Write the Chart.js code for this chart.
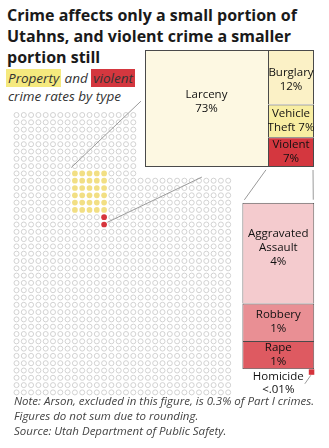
<!DOCTYPE html>
<html>
<head>
<meta charset="utf-8">
<script src="https://cdn.jsdelivr.net/npm/chart.js@4.4.1/dist/chart.umd.min.js"></script>
<style>
  body { margin: 0; background: #fff; }
  #page { position: relative; width: 329px; height: 448px; overflow: hidden; font-family: "Open Sans", sans-serif; color: #222; }
  #page canvas, #page svg { position: absolute; }
  h1 { position: absolute; left: 7px; top: 5px; margin: 0; font-size: 16px; line-height: 20.8px; font-weight: 700; color: #1a1a1a; white-space: nowrap; }
  .sub { position: absolute; left: 6px; top: 69px; font-size: 13.5px; line-height: 18.3px; font-style: italic; color: #333; white-space: nowrap; }
  .sub .l2 { margin-left: 2px; }
  .hl-p { background: #f5e97e; padding: 0 2px; }
  .hl-v { background: #d4373f; padding: 0 2px; }
  .note { position: absolute; left: 14px; top: 393px; font-size: 11.5px; line-height: 15px; font-style: italic; color: #444; white-space: nowrap; }
</style>
</head>
<body>
<div id="page">
  <h1>Crime affects only a small portion of<br>Utahns, and violent crime a smaller<br>portion still</h1>
  <div class="sub"><span class="hl-p">Property</span> and <span class="hl-v">violent</span><br><span class="l2">crime rates by type</span></div>
  <canvas id="dots" width="240" height="310"></canvas>
  <canvas id="treeLeft"></canvas>
  <canvas id="treeRight"></canvas>
  <canvas id="violent" width="73" height="200"></canvas>
  <div class="note">Note: Arson, excluded in this figure, is 0.3% of Part I crimes.<br>Figures do not sum due to rounding.<br>Source: Utah Department of Public Safety.</div>
</div>
<script>
// one dot = 0.1% of Utahns
const dotGroups = ["Property", "Violent"];
const dotCounts = [30, 2];
const dotColors = ["#f2df84", "#d6353d"];

// share of Part I crimes, %
const crimeTypes = ["Larceny", "Burglary", "Vehicle Theft", "Violent"];
const crimeShares = [72.6, 12.6, 7.6, 6.9];
const crimeText = [["Larceny", "73%"], ["Burglary", "12%"], ["Vehicle", "Theft 7%"], ["Violent", "7%"]];
const crimeColors = ["#fdf8e2", "#fbf1c6", "#f8eea2", "#d4373f"];

// violent crime split, %
const violentTypes = ["Aggravated Assault", "Robbery", "Rape", "Homicide"];
const violentShares = [3.9, 1.45, 1.1, 0.005];
const violentText = [["Aggravated", "Assault", "4%"], ["Robbery", "1%"], ["Rape", "1%"], ["Homicide", "<.01%"]];
const violentColors = ["#f4cbce", "#e98f94", "#de5a61", "#d4343c"];

// grid shape
const gridCols = 30, gridRows = 39;
const notchCols = 17, notchRows = 9;   // top rows stop short of the treemap
const blockCol = 8, blockRow = 8, blockWidth = 5;

const lineGray = "#9a9a9a";
const edge = "#4a4a4a";
const labelFont = "500 11.5px 'Open Sans'";
const labelColor = "#111";

// ---------- dot grid ----------
const filled = [[], []];
for (let i = 0; i < dotCounts[0]; i++) {
    filled[0].push({ x: blockCol + i % blockWidth, y: blockRow + Math.floor(i / blockWidth) });
}
const blockRows = Math.ceil(dotCounts[0] / blockWidth);
for (let i = 0; i < dotCounts[1]; i++) {
    filled[1].push({ x: blockCol + blockWidth - 1, y: blockRow + blockRows + i });
}
const taken = new Set(filled.flat().map(p => p.x + "," + p.y));
const emptyDots = [];
for (let r = 0; r < gridRows; r++) {
    const cols = r < notchRows ? notchCols : gridCols;
    for (let c = 0; c < cols; c++) {
        if (!taken.has(c + "," + r)) emptyDots.push({ x: c, y: r });
    }
}

// pointer lines, in grid units
const leaders = [
    [{ x: 7.5, y: 7.2 }, { x: 17.05, y: -1.9 }],
    [{ x: 12.45, y: 14.7 }, { x: 25.4, y: 8.5 }]
];

const quiet = {
    responsive: false,
    animation: false,
    events: [],
    plugins: { legend: { display: false }, tooltip: { enabled: false } }
};

function place(id, left, top, width, height) {
    const c = document.getElementById(id);
    if (width) { c.width = width; c.height = height; }
    c.style.left = left + "px";
    c.style.top = top + "px";
    return c;
}

const dotsCanvas = place("dots", 0, 95);
new Chart(dotsCanvas, {
    type: "scatter",
    data: {
        datasets: [
            ...leaders.map(l => ({
                data: l, showLine: true, borderColor: lineGray, borderWidth: 1,
                pointRadius: 0, clip: false
            })),
            ...filled.map((d, i) => ({
                label: dotGroups[i], data: d, pointRadius: 2.85,
                backgroundColor: dotColors[i], borderWidth: 0
            })),
            {
                data: emptyDots, pointRadius: 2.5,
                backgroundColor: "rgba(0,0,0,0)", borderColor: "#cdcdcd", borderWidth: 0.9
            }
        ]
    },
    options: {
        ...quiet,
        layout: { padding: { left: 12.85, top: 16.35, right: 8.15, bottom: 8.95 } },
        scales: {
            x: { type: "linear", min: -0.5, max: gridCols - 0.5, display: false },
            y: { type: "linear", min: -0.5, max: gridRows - 0.5, reverse: true, display: false }
        }
    }
});

// ---------- labels inside boxes ----------
const boxLabels = {
    id: "boxLabels",
    afterDatasetsDraw(chart) {
        const ctx = chart.ctx;
        ctx.save();
        ctx.font = labelFont;
        ctx.fillStyle = labelColor;
        ctx.textAlign = "center";
        ctx.textBaseline = "middle";
        chart.data.datasets.forEach((ds, i) => {
            if (!ds.lines) return;
            const bar = chart.getDatasetMeta(i).data[0];
            const cy = (bar.y + bar.base) / 2 + (ds.shift || 0);
            ds.lines.forEach((t, k) => {
                ctx.fillText(t, bar.x, cy + (k - (ds.lines.length - 1) / 2) * 14);
            });
        });
        ctx.restore();
    }
};

function boxChart(canvas, datasets, total) {
    return new Chart(canvas, {
        type: "bar",
        data: { labels: [""], datasets },
        options: {
            ...quiet,
            layout: { padding: 0 },
            datasets: { bar: { barPercentage: 1, categoryPercentage: 1, borderSkipped: false, inflateAmount: 0 } },
            scales: {
                x: { stacked: true, display: false },
                y: { stacked: true, min: 0, max: total, display: false }
            }
        },
        plugins: [boxLabels]
    });
}

function seg(label, value, color, lines, sides, shift) {
    return { label, data: [value], backgroundColor: color, borderColor: edge, borderWidth: sides, lines, shift };
}

const openTop = { top: 1, left: 1, right: 1, bottom: 0 };

// ---------- treemap ----------
const treeX = 145, treeY = 50, treeW = 169, treeH = 117;
const crimeSum = crimeShares.reduce((a, b) => a + b, 0);
const leftW = Math.round(treeW * crimeShares[0] / crimeSum);
const rightSum = crimeSum - crimeShares[0];

boxChart(place("treeLeft", treeX, treeY, leftW, treeH), [
    seg(crimeTypes[0], crimeShares[0], crimeColors[0], crimeText[0], { top: 1, left: 1, bottom: 1, right: 0 }, -7)
], crimeShares[0]);

const treeRight = boxChart(place("treeRight", treeX + leftW, treeY, treeW - leftW, treeH), [
    seg(crimeTypes[3], crimeShares[3], crimeColors[3], crimeText[3], 1),
    seg(crimeTypes[2], crimeShares[2], crimeColors[2], crimeText[2], openTop),
    seg(crimeTypes[1], crimeShares[1], crimeColors[1], crimeText[1], openTop, 3)
], rightSum);

// ---------- violent breakdown ----------
const homicideMark = {
    id: "homicideMark",
    afterDatasetsDraw(chart) {
        const ctx = chart.ctx;
        const bar = chart.getDatasetMeta(0).data[0];
        const right = bar.x + bar.width / 2;
        const top = chart.scales.y.getPixelForValue(0);
        const s = 5.5;
        ctx.save();
        ctx.fillStyle = violentColors[3];
        ctx.fillRect(right - s, top, s, s);
        ctx.strokeStyle = lineGray;
        ctx.lineWidth = 1;
        ctx.beginPath();
        ctx.moveTo(right - 3.5, top + s + 0.5);
        ctx.lineTo(right - 9.5, top + 14.5);
        ctx.stroke();
        ctx.font = labelFont;
        ctx.fillStyle = labelColor;
        ctx.textAlign = "center";
        ctx.textBaseline = "middle";
        const cx = (chart.chartArea.left + chart.chartArea.right) / 2;
        violentText[3].forEach((t, k) => ctx.fillText(t, cx, top + 7 + k * 13));
        ctx.restore();
    }
};

const violentCanvas = place("violent", 242, 202);
const violentSum = violentShares[0] + violentShares[1] + violentShares[2];
const violentChart = new Chart(violentCanvas, {
    type: "bar",
    data: {
        labels: [""],
        datasets: [
            seg(violentTypes[2], violentShares[2], violentColors[2], violentText[2], 1),
            seg(violentTypes[1], violentShares[1], violentColors[1], violentText[1], openTop),
            seg(violentTypes[0], violentShares[0], violentColors[0], violentText[0], openTop, -5)
        ]
    },
    options: {
        ...quiet,
        layout: { padding: { left: 0.3, top: 0.7, right: 0.7, bottom: 32.7 } },
        datasets: { bar: { barPercentage: 1, categoryPercentage: 1, borderSkipped: false, inflateAmount: 0 } },
        scales: {
            x: { stacked: true, display: false },
            y: { stacked: true, min: 0, max: violentSum, display: false }
        }
    },
    plugins: [boxLabels, homicideMark]
});

// ---------- connectors from the Violent box to its breakdown ----------
function pagePos(canvas, x, y) {
    return { x: parseFloat(canvas.style.left) + x, y: parseFloat(canvas.style.top) + y };
}
const vBox = treeRight.getDatasetMeta(0).data[0];
const bTop = violentChart.getDatasetMeta(2).data[0];
const rc = document.getElementById("treeRight");
const a1 = pagePos(rc, vBox.x - vBox.width / 2, vBox.base);
const a2 = pagePos(rc, vBox.x + vBox.width / 2, vBox.base);
const b1 = pagePos(violentCanvas, bTop.x - bTop.width / 2, bTop.y);
const b2 = pagePos(violentCanvas, bTop.x + bTop.width / 2, bTop.y);

function shorten(p, q, gap) {
    const len = Math.hypot(q.x - p.x, q.y - p.y);
    const ux = (q.x - p.x) / len, uy = (q.y - p.y) / len;
    return [p.x + ux * gap, p.y + uy * gap, q.x - ux * gap, q.y - uy * gap];
}
const svgNS = "http://www.w3.org/2000/svg";
const svg = document.createElementNS(svgNS, "svg");
svg.setAttribute("width", 329);
svg.setAttribute("height", 448);
svg.style.left = "0px";
svg.style.top = "0px";
[
    shorten(a1, b1, 3.5),
    shorten({ x: a2.x - 1, y: a2.y }, { x: b2.x - 1, y: b2.y }, 3)
].forEach(([x1, y1, x2, y2]) => {
    const ln = document.createElementNS(svgNS, "line");
    ln.setAttribute("x1", x1); ln.setAttribute("y1", y1);
    ln.setAttribute("x2", x2); ln.setAttribute("y2", y2);
    ln.setAttribute("stroke", lineGray);
    ln.setAttribute("stroke-width", 1);
    svg.appendChild(ln);
});
document.getElementById("page").appendChild(svg);
</script>
</body>
</html>
